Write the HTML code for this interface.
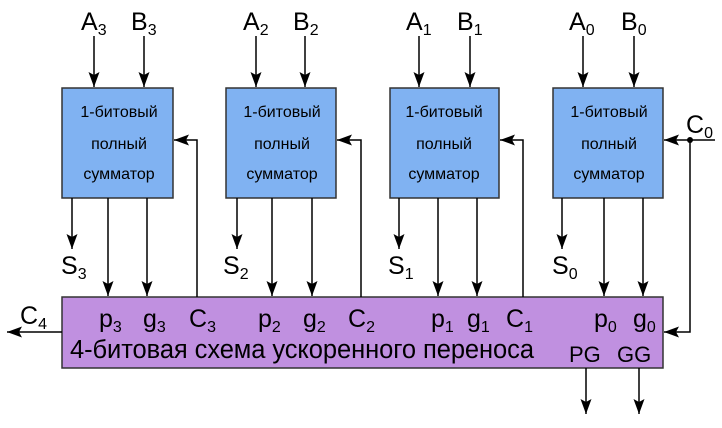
<!DOCTYPE html>
<html><head><meta charset="utf-8"><style>
html,body{margin:0;padding:0;background:#fff;}
svg text{font-family:"Liberation Sans",sans-serif;fill:#000;}
</style></head><body>
<svg width="722" height="423" viewBox="0 0 722 423" xmlns="http://www.w3.org/2000/svg">
<defs>
<marker id="ah" markerWidth="16" markerHeight="12" refX="15" refY="6" orient="auto" markerUnits="userSpaceOnUse">
<path d="M0,0.5 L15,6 L0,11.5 L3,6 Z" fill="#000"/>
</marker>
</defs>
<g stroke="#333" stroke-width="1.5" fill="#80b2f2">
<rect x="62" y="88" width="111" height="110"/>
<rect x="226" y="88" width="110" height="110"/>
<rect x="390" y="88" width="109" height="110"/>
<rect x="553" y="88" width="110" height="110"/>
</g>
<rect x="62" y="297" width="601" height="71" fill="#c090e0" stroke="#333" stroke-width="1.5"/>
<g stroke="#000" stroke-width="1.5" fill="none" marker-end="url(#ah)">
<line x1="94" y1="36" x2="94" y2="87"/><line x1="144" y1="36" x2="144" y2="87"/>
<line x1="256" y1="36" x2="256" y2="87"/><line x1="305" y1="36" x2="305" y2="87"/>
<line x1="419" y1="36" x2="419" y2="87"/><line x1="470" y1="36" x2="470" y2="87"/>
<line x1="583" y1="36" x2="583" y2="87"/><line x1="634" y1="36" x2="634" y2="87"/>
<line x1="72" y1="198" x2="72" y2="249"/><line x1="108" y1="198" x2="108" y2="296"/><line x1="147" y1="198" x2="147" y2="296"/>
<line x1="237" y1="198" x2="237" y2="249"/><line x1="272" y1="198" x2="272" y2="296"/><line x1="312" y1="198" x2="312" y2="296"/>
<line x1="399" y1="198" x2="399" y2="249"/><line x1="438" y1="198" x2="438" y2="296"/><line x1="477" y1="198" x2="477" y2="296"/>
<line x1="562" y1="198" x2="562" y2="249"/><line x1="604" y1="198" x2="604" y2="296"/><line x1="643" y1="198" x2="643" y2="296"/>
<polyline points="197,297 197,140 174,140"/>
<polyline points="361,297 361,140 337,140"/>
<polyline points="523,297 523,140 500,140"/>
<polyline points="715,140 664,140"/>
<polyline points="690,140 690,332 664,332"/>
<line x1="62" y1="332" x2="7" y2="332"/>
<line x1="586" y1="368" x2="586" y2="414"/>
<line x1="639" y1="368" x2="639" y2="414"/>
</g>
<circle cx="690" cy="140" r="3" fill="#000"/>
<g font-size="25">
<text x="81" y="30">A<tspan font-size="16" dy="5">3</tspan></text>
<text x="131" y="30">B<tspan font-size="16" dy="5">3</tspan></text>
<text x="243" y="30">A<tspan font-size="16" dy="5">2</tspan></text>
<text x="293" y="30">B<tspan font-size="16" dy="5">2</tspan></text>
<text x="406" y="30">A<tspan font-size="16" dy="5">1</tspan></text>
<text x="457" y="30">B<tspan font-size="16" dy="5">1</tspan></text>
<text x="569" y="30">A<tspan font-size="16" dy="5">0</tspan></text>
<text x="621" y="30">B<tspan font-size="16" dy="5">0</tspan></text>
<text x="686" y="133">C<tspan font-size="16" dy="5">0</tspan></text>
<text x="61" y="274">S<tspan font-size="16" dy="5">3</tspan></text>
<text x="223" y="274">S<tspan font-size="16" dy="5">2</tspan></text>
<text x="388" y="274">S<tspan font-size="16" dy="5">1</tspan></text>
<text x="552" y="274">S<tspan font-size="16" dy="5">0</tspan></text>
<text x="20" y="324">C<tspan font-size="16" dy="5">4</tspan></text>
<text x="99" y="327">p<tspan font-size="16" dy="5">3</tspan></text>
<text x="143" y="327">g<tspan font-size="16" dy="5">3</tspan></text>
<text x="189" y="327">C<tspan font-size="16" dy="5">3</tspan></text>
<text x="258" y="327">p<tspan font-size="16" dy="5">2</tspan></text>
<text x="303" y="327">g<tspan font-size="16" dy="5">2</tspan></text>
<text x="348" y="327">C<tspan font-size="16" dy="5">2</tspan></text>
<text x="431" y="327">p<tspan font-size="16" dy="5">1</tspan></text>
<text x="467" y="327">g<tspan font-size="16" dy="5">1</tspan></text>
<text x="506" y="327">C<tspan font-size="16" dy="5">1</tspan></text>
<text x="594" y="327">p<tspan font-size="16" dy="5">0</tspan></text>
<text x="633" y="327">g<tspan font-size="16" dy="5">0</tspan></text>
</g>
<text x="70" y="358" font-size="25.5" textLength="464">4-битовая схема ускоренного переноса</text>
<text x="569" y="362" font-size="22">PG</text>
<text x="617" y="362" font-size="22">GG</text>
<g font-size="16" text-anchor="middle">
<text x="119" y="117">1-битовый</text><text x="119" y="149">полный</text><text x="119" y="179">сумматор</text>
<text x="282" y="117">1-битовый</text><text x="282" y="149">полный</text><text x="282" y="179">сумматор</text>
<text x="444" y="117">1-битовый</text><text x="444" y="149">полный</text><text x="444" y="179">сумматор</text>
<text x="609" y="117">1-битовый</text><text x="609" y="149">полный</text><text x="609" y="179">сумматор</text>
</g>
</svg>
</body></html>
